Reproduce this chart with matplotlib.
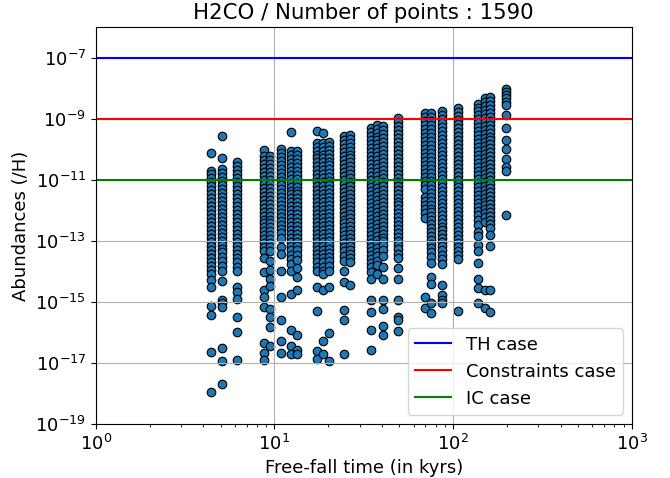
import numpy as np
import matplotlib
matplotlib.use("Agg")
import matplotlib.pyplot as plt
from matplotlib.ticker import FixedLocator, NullLocator, LogFormatterSciNotation

# free-fall times (kyrs) of each column of models
times = [4.4, 5.06, 6.2, 8.75, 9.42, 10.85, 12.3, 13.3, 17.3, 18.7, 20.1, 24.4,
         26.4, 34.5, 37.5, 40.5, 49.1, 69.4, 75.6, 86.8, 106.6, 138, 150.4, 160.4, 196.4]

# log10 of abundances read for each column
c01 = [-10.11, -10.70, -10.82, -10.95, -11.08, -11.20, -11.34, -11.47, -11.60, -11.72, -11.86,
       -11.99, -12.12, -12.25, -12.38, -12.52, -12.65, -12.78, -12.92, -13.05, -13.18, -13.30,
       -13.44, -13.57, -13.70, -13.83, -13.96, -14.10, -14.28, -14.52, -15.14, -15.43, -16.65, -17.96]
c02 = [-9.57, -10.29, -10.65, -10.78, -10.91, -11.04, -11.17, -11.30, -11.43, -11.56, -11.69,
       -11.82, -11.95, -12.08, -12.21, -12.34, -12.47, -12.60, -12.73, -12.86, -12.99, -13.12,
       -13.25, -13.38, -13.52, -13.66, -13.82, -14.00, -14.30, -14.93, -15.05, -15.16, -16.50,
       -16.94, -17.69]
c03 = [-10.43, -10.56, -10.69, -10.82, -10.95, -11.08, -11.21, -11.34, -11.47, -11.60, -11.73,
       -11.86, -11.99, -12.12, -12.25, -12.38, -12.51, -12.64, -12.77, -12.90, -13.03, -13.16,
       -13.29, -13.42, -13.56, -13.70, -13.84, -13.98, -14.52, -14.68, -14.89, -15.48, -15.99, -16.90]
c04 = [-10.03, -10.22, -10.35, -10.48, -10.61, -10.74, -10.87, -11.00, -11.13, -11.26, -11.39,
       -11.52, -11.65, -11.78, -11.91, -12.04, -12.17, -12.30, -12.43, -12.56, -12.69, -12.82,
       -12.95, -13.08, -13.21, -13.34, -13.55, -14.03, -14.61, -14.84, -15.16, -16.35, -16.67, -16.91]
c05 = [-10.22, -10.35, -10.48, -10.61, -10.74, -10.87, -11.00, -11.13, -11.26, -11.39, -11.52,
       -11.65, -11.78, -11.91, -12.04, -12.17, -12.30, -12.43, -12.56, -12.69, -12.82, -12.95,
       -13.08, -13.20, -13.32, -13.65, -13.96, -14.25, -14.49, -15.22, -15.48, -15.81, -16.43]
c06 = [-10.00, -10.13, -10.26, -10.39, -10.52, -10.65, -10.78, -10.91, -11.04, -11.17, -11.30,
       -11.43, -11.56, -11.69, -11.82, -11.95, -12.08, -12.21, -12.34, -12.47, -12.60, -12.75,
       -12.90, -13.20, -13.44, -13.98, -14.84, -15.59, -16.29, -16.67]
c07 = [-9.44, -10.05, -10.18, -10.31, -10.44, -10.57, -10.70, -10.83, -10.96, -11.09, -11.22,
       -11.35, -11.48, -11.61, -11.74, -11.87, -12.00, -12.13, -12.26, -12.39, -12.52, -12.65,
       -12.78, -12.91, -13.04, -13.17, -13.30, -13.45, -13.60, -13.76, -13.98, -14.73, -15.91,
       -16.45, -16.72]
c08 = [-10.05, -10.18, -10.31, -10.44, -10.57, -10.70, -10.83, -10.96, -11.09, -11.22, -11.35,
       -11.48, -11.61, -11.74, -11.87, -12.00, -12.13, -12.26, -12.39, -12.52, -12.65, -12.78,
       -12.91, -13.04, -13.17, -13.30, -13.45, -13.62, -13.90, -14.19, -14.60, -16.07, -16.56, -16.72]
c09 = [-9.41, -9.78, -9.91, -10.04, -10.17, -10.30, -10.43, -10.56, -10.69, -10.82, -10.95,
       -11.08, -11.21, -11.34, -11.47, -11.60, -11.73, -11.86, -11.99, -12.12, -12.25, -12.38,
       -12.51, -12.64, -12.77, -12.90, -13.03, -13.16, -13.29, -13.42, -13.56, -13.70, -13.84,
       -13.98, -14.52, -15.29, -16.61, -16.88]
c10 = [-9.46, -9.78, -9.91, -10.04, -10.17, -10.30, -10.43, -10.56, -10.69, -10.82, -10.95,
       -11.08, -11.21, -11.34, -11.47, -11.60, -11.73, -11.86, -11.99, -12.12, -12.25, -12.38,
       -12.51, -12.64, -12.77, -12.90, -13.03, -13.16, -13.29, -13.42, -13.56, -13.70, -13.84,
       -13.98, -14.10, -14.62, -16.29, -16.72]
c11 = [-9.75, -9.88, -10.01, -10.14, -10.27, -10.40, -10.53, -10.66, -10.79, -10.92, -11.05,
       -11.18, -11.31, -11.44, -11.57, -11.70, -11.83, -11.96, -12.09, -12.22, -12.35, -12.48,
       -12.61, -12.74, -12.87, -13.00, -13.13, -13.26, -13.39, -13.52, -13.66, -13.82, -13.98,
       -14.52, -16.02, -16.94]
c12 = [-9.57, -9.70, -9.83, -9.96, -10.09, -10.22, -10.35, -10.48, -10.61, -10.74, -10.87,
       -11.00, -11.13, -11.26, -11.39, -11.52, -11.65, -11.78, -11.91, -12.04, -12.17, -12.30,
       -12.43, -12.56, -12.69, -12.82, -12.95, -13.08, -13.21, -13.34, -13.48, -13.65, -13.98,
       -14.35, -15.25, -15.59, -16.72]
c13 = [-9.52, -9.65, -9.78, -9.91, -10.04, -10.17, -10.30, -10.43, -10.56, -10.69, -10.82,
       -10.95, -11.08, -11.21, -11.34, -11.47, -11.60, -11.73, -11.86, -11.99, -12.12, -12.25,
       -12.38, -12.51, -12.64, -12.77, -12.90, -13.03, -13.16, -13.29, -13.42, -13.56, -13.70,
       -14.43]
c14 = [-9.30, -9.43, -9.56, -9.69, -9.82, -9.95, -10.08, -10.21, -10.34, -10.47, -10.60,
       -10.73, -10.86, -10.99, -11.12, -11.25, -11.38, -11.51, -11.64, -11.77, -11.90, -12.03,
       -12.16, -12.29, -12.42, -12.55, -12.68, -12.81, -12.94, -13.07, -13.20, -13.33, -13.46,
       -13.59, -13.72, -13.86, -14.02, -14.25, -14.93, -15.32, -15.91, -16.58]
c15 = [-9.19, -9.32, -9.45, -9.58, -9.71, -9.84, -9.97, -10.10, -10.23, -10.36, -10.49,
       -10.62, -10.75, -10.88, -11.01, -11.14, -11.27, -11.40, -11.53, -11.66, -11.79, -11.92,
       -12.05, -12.18, -12.31, -12.44, -12.57, -12.70, -12.83, -12.96, -13.09, -13.22, -13.35,
       -13.50, -13.65, -13.80, -14.09]
c16 = [-9.25, -9.38, -9.51, -9.64, -9.77, -9.90, -10.03, -10.16, -10.29, -10.42, -10.55,
       -10.68, -10.81, -10.94, -11.07, -11.20, -11.33, -11.46, -11.59, -11.72, -11.85, -11.98,
       -12.11, -12.24, -12.37, -12.50, -12.63, -12.76, -12.89, -13.02, -13.15, -13.30, -13.50,
       -13.87, -14.25, -14.93, -15.22, -15.78, -16.07]
c17 = [-8.98, -9.11, -9.24, -9.37, -9.50, -9.63, -9.76, -9.89, -10.02, -10.15, -10.28,
       -10.41, -10.54, -10.67, -10.80, -10.93, -11.06, -11.19, -11.32, -11.45, -11.58, -11.71,
       -11.84, -11.97, -12.10, -12.23, -12.36, -12.49, -12.62, -12.75, -12.88, -13.01, -13.14,
       -13.28, -13.42, -13.55, -13.89, -14.25, -14.93, -15.48, -15.58, -15.94]
c18 = [-8.82, -8.95, -9.08, -9.21, -9.34, -9.47, -9.60, -9.73, -9.86, -9.99, -10.12,
       -10.25, -10.38, -10.51, -10.64, -10.77, -10.90, -11.03, -11.16, -11.29, -11.56, -11.70,
       -11.83, -11.96, -12.10, -12.26, -14.84, -15.20]
c19 = [-8.82, -8.95, -9.08, -9.21, -9.34, -9.47, -9.60, -9.73, -9.86, -9.99, -10.12,
       -10.25, -10.38, -10.51, -10.64, -10.77, -10.90, -11.03, -11.16, -11.29, -11.42, -11.55,
       -11.68, -11.81, -11.94, -12.07, -12.20, -12.33, -12.46, -12.59, -12.72, -12.85, -12.98,
       -13.11, -13.24, -13.37, -13.52, -13.71, -14.17, -14.41, -15.05, -15.35]
c20 = [-8.76, -8.89, -9.02, -9.15, -9.28, -9.41, -9.54, -9.67, -9.80, -9.93, -10.06,
       -10.19, -10.32, -10.45, -10.58, -10.71, -10.84, -10.97, -11.10, -11.23, -11.36, -11.49,
       -11.62, -11.75, -11.88, -12.01, -12.14, -12.27, -12.40, -12.53, -12.66, -12.79, -12.92,
       -13.05, -13.18, -13.31, -13.45, -13.60, -13.76, -14.43, -14.78, -14.95, -15.05]
c21 = [-8.65, -8.78, -8.91, -9.04, -9.17, -9.30, -9.43, -9.56, -9.69, -9.82, -9.95,
       -10.08, -10.21, -10.34, -10.47, -10.60, -10.73, -10.86, -10.99, -11.12, -11.25, -11.38,
       -11.51, -11.64, -11.77, -11.90, -12.03, -12.16, -12.29, -12.42, -12.55, -12.68, -12.81,
       -12.94, -13.07, -13.20, -13.33, -13.46, -13.60, -15.30]
c22 = [-8.50, -8.63, -8.76, -8.89, -9.02, -9.15, -9.28, -9.41, -9.54, -9.67, -9.80,
       -9.93, -10.06, -10.19, -10.32, -10.45, -10.58, -10.71, -10.84, -10.97, -11.10, -11.23,
       -11.36, -11.49, -11.62, -11.75, -11.88, -12.01, -12.14, -12.30, -12.47, -12.70, -12.85,
       -13.12, -13.33, -13.71, -14.25, -14.54, -15.02]
c23 = [-8.33, -8.46, -8.59, -8.72, -8.85, -8.98, -9.11, -9.24, -9.37, -9.50, -9.63,
       -9.76, -9.89, -10.02, -10.15, -10.28, -10.41, -10.54, -10.67, -10.80, -10.93, -11.06,
       -11.19, -11.32, -11.45, -11.58, -11.71, -11.84, -11.97, -12.10, -12.23, -12.37, -14.62,
       -15.19]
c24 = [-8.28, -8.41, -8.54, -8.67, -8.80, -8.93, -9.06, -9.19, -9.32, -9.45, -9.58,
       -9.71, -9.84, -9.97, -10.10, -10.23, -10.36, -10.49, -10.62, -10.75, -10.88, -11.01,
       -11.14, -11.27, -11.40, -11.53, -11.66, -11.79, -11.92, -12.05, -12.18, -12.31, -12.44,
       -12.57, -12.80, -13.17, -14.62, -15.32]
c25 = [-8.01, -8.12, -8.23, -8.33, -8.44, -8.55, -8.87, -9.30, -9.68, -10.00, -10.32,
       -10.59, -10.70, -12.15]

columns = [c01, c02, c03, c04, c05, c06, c07, c08, c09, c10, c11, c12, c13,
           c14, c15, c16, c17, c18, c19, c20, c21, c22, c23, c24, c25]

# reference abundances
th_case = 1e-7
constraints_case = 1e-9
ic_case = 1e-11

x = []
y = []
for t, col in zip(times, columns):
    x += [t] * len(col)
    y += [10.0 ** v for v in col]

fig = plt.figure(figsize=(6.7, 4.78), dpi=100)
ax = fig.add_subplot(111)
fig.subplots_adjust(left=0.143, right=0.943, top=0.943, bottom=0.113)

ax.scatter(x, y, s=38, c="#1f77b4", edgecolors="black", linewidths=0.8)
ax.axhline(th_case, color="b", label="TH case")
ax.axhline(constraints_case, color="r", label="Constraints case")
ax.axhline(ic_case, color="g", label="IC case")

ax.set_xscale("log")
ax.set_yscale("log")
ax.set_xlim(1, 1e3)
ax.set_ylim(1e-19, 1e-6)
ax.yaxis.set_major_locator(FixedLocator([10.0 ** e for e in range(-19, -6, 2)]))
ax.yaxis.set_major_formatter(LogFormatterSciNotation())
ax.yaxis.set_minor_locator(NullLocator())
ax.grid(True, color="#b0b0b0", linewidth=0.8)

ax.tick_params(labelsize=13)
ax.set_xlabel("Free-fall time (in kyrs)", fontsize=13)
ax.set_ylabel("Abundances (/H)", fontsize=13)
ax.set_title("H2CO / Number of points : 1590", fontsize=15.3)
ax.legend(loc="lower right", fontsize=13)

fig.savefig("out.png", dpi=100)
